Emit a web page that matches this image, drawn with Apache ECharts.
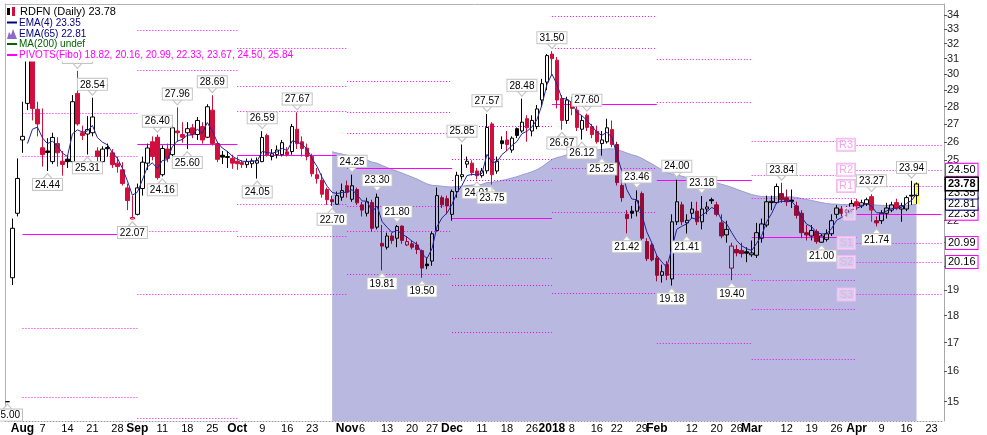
<!DOCTYPE html>
<html><head><meta charset="utf-8">
<script src="https://cdn.jsdelivr.net/npm/echarts@6/dist/echarts.min.js"></script>
<style>html,body{margin:0;padding:0;background:#fff}#c{width:987px;height:435px}</style>
</head><body><div id="c"></div>
<script>
// ---------- data ----------
const firstDay = '2017-07-27', lastDay = '2018-04-25';
const holidays = ['2017-09-04','2017-11-23','2017-12-25','2018-01-01','2018-01-15','2018-02-19','2018-03-30'];
const opens  = [15,19.5,22.35,26.1,28.2,31.0,27.85,25.67,25.5,24.93,25.9,24.95,25.06,24.93,28.8,26.5,26.43,26.5,25.5,24.93,25.68,25.4,24.85,24.5,23.58,22.08,22.3,23.55,24.85,26.0,26.25,24.25,25.6,25.3,26.6,26.4,26.5,26.78,26.4,26.85,26.25,27.8,25.9,25.27,25.15,25.1,24.95,24.88,24.77,24.82,24.85,24.93,26.35,25.2,25.3,25.3,25.45,25.47,26.7,26.0,25.65,25.2,24.25,23.97,23.5,23.0,22.78,23.12,23.69,23.02,23.5,22.75,22.35,22.86,21.7,20.97,20.8,21.3,21.2,21.75,20.9,20.95,20.9,20.65,20.07,20.2,21.55,23.1,23.05,22.3,23.4,24.15,24.8,24.85,24.44,24.2,24.45,27.0,24.44,26.05,26.1,25.55,26.73,26.6,27.3,26.6,26.85,28.4,29.5,31.3,30.9,28.5,27.2,28.3,27.8,26.7,27.5,26.85,26.58,25.9,26.0,26.68,25.85,23.7,22.3,22.45,22.45,23.3,21.05,20.9,20.33,19.6,20.05,19.45,21.95,22.75,21.9,22.35,22.45,21.95,22.55,23.0,22.75,21.9,21.35,19.9,20.7,20.66,20.6,20.47,20.45,21.2,21.8,22.86,22.86,23.3,23.1,22.98,22.7,22.35,21.45,21.3,21.5,21.02,21.15,21.4,22.3,22.55,22.4,22.55,22.9,22.7,22.8,23.15,22.0,22.0,22.35,22.5,22.86,22.55,22.55,23.22,23.2];
const closes = [15,21.65,24.06,26.3,31.6,27.9,27.0,25.3,25.42,26.24,25.4,24.78,24.93,28.3,27.0,26.35,26.68,27.4,25.2,25.6,25.62,24.77,24.67,23.8,22.96,22.15,23.58,24.9,25.66,25.2,24.1,25.63,25.1,26.78,26.5,26.25,26.73,26.4,27.2,26.1,28.0,25.9,25.05,25.17,25.2,24.85,24.82,24.78,24.93,24.97,24.99,26.24,25.3,25.35,25.55,25.95,25.3,26.85,25.9,25.63,25.2,24.3,24.05,23.27,23.0,22.9,23.2,23.45,23.37,23.69,22.85,22.5,22.9,21.65,23.12,20.85,21.3,21.1,21.73,21.1,21.05,20.8,20.7,19.9,20.0,21.4,23.2,22.75,22.7,23.4,24.22,24.25,24.95,24.35,24.2,24.45,26.8,24.25,24.95,25.9,25.85,26.2,26.35,27.1,26.78,27.2,27.87,29.4,31.2,31.0,28.4,27.2,28.4,27.9,26.8,27.2,26.8,26.4,26.0,26.1,26.78,25.85,23.85,23.1,22.1,22.35,22.95,21.2,20.3,20.25,19.6,19.75,19.6,21.95,22.9,21.95,22.02,22.55,21.95,22.55,22.65,22.95,22.3,21.3,21.6,20.85,20.55,20.52,20.54,20.55,21.45,21.85,22.9,22.92,23.65,23.0,22.9,22.92,22.25,21.45,21.35,21.55,21.05,21.3,21.4,22.0,22.6,22.35,22.5,22.82,22.7,22.85,23.0,22.5,21.9,22.35,22.6,22.75,22.6,22.7,23.1,23.18,23.78];
const lows   = [15,19.2,22.2,25.4,27.8,27.2,26.3,24.67,24.44,24.8,24.67,24.2,24.6,24.6,26.9,26.1,25.31,26.3,24.95,24.85,25.2,24.6,24.35,23.7,22.5,22.07,22.25,23.2,24.5,25.0,24.0,24.16,24.9,25.2,26.0,25.95,25.6,26.2,26.1,25.9,26.2,25.8,24.9,24.8,24.6,24.55,24.5,24.6,24.6,24.6,24.05,24.9,25.2,25.0,25.1,25.2,25.2,25.3,25.6,25.2,25.0,24.15,23.8,23.1,22.75,22.7,22.75,22.95,23.1,22.9,22.75,22.2,22.2,21.5,21.6,19.81,20.7,20.95,20.8,20.95,20.85,20.7,20.5,19.5,19.85,20.0,21.5,22.6,22.3,22.0,23.1,24.0,24.6,24.2,24.01,24.1,24.3,23.75,24.3,25.6,25.5,25.4,26.2,26.5,26.0,26.3,26.7,28.0,29.0,29.9,27.9,26.67,27.0,27.5,26.6,26.12,26.6,26.2,25.9,25.25,25.9,25.7,23.7,22.9,21.42,22.1,22.2,21.1,20.2,20.18,19.35,19.3,19.4,19.18,21.8,21.8,21.41,22.1,21.8,21.6,22.3,22.8,22.2,21.2,21.0,19.4,20.4,20.35,20.15,20.38,20.33,21.0,21.7,22.5,22.8,22.85,22.7,22.6,22.1,21.2,21.1,21.1,20.95,21.0,21.05,21.3,22.1,22.2,22.2,22.4,22.5,22.6,22.7,21.95,21.74,21.85,22.1,22.4,22.5,21.95,22.45,22.75,22.8];
const highs  = [15,22.1,25.1,28.3,33.47,31.8,28.3,27.9,26.2,26.5,26.25,25.5,25.27,28.7,30.21,26.9,27.45,28.54,25.7,25.75,25.9,25.6,25.2,24.9,23.8,23.2,23.8,25.2,25.9,26.3,26.4,25.8,25.9,26.9,27.96,27.1,27.1,27.0,27.4,27.1,28.15,28.69,26.0,25.5,25.5,25.3,25.2,25.0,25.1,25.1,25.15,26.59,26.45,25.6,25.8,26.1,25.7,27.0,27.67,26.3,25.9,25.35,24.6,24.3,23.6,23.2,23.4,23.8,23.95,24.25,23.6,22.9,23.1,23.0,23.3,21.8,21.45,21.45,21.8,21.78,21.3,21.1,21.05,20.7,20.35,21.5,23.6,23.2,23.2,23.5,24.4,25.85,25.2,25.0,24.6,24.6,27.57,27.1,25.2,26.3,26.6,26.3,26.8,28.48,27.5,27.5,28.1,29.7,31.3,31.5,31.1,28.7,28.6,28.6,28.1,27.5,27.6,27.0,26.9,26.6,27.3,27.2,26.0,24.0,22.5,22.7,23.46,23.4,21.2,21.0,20.5,20.05,20.2,22.3,24.0,22.9,22.3,22.9,22.9,23.18,22.9,23.1,22.9,22.3,22.0,21.0,20.9,21.0,20.8,21.1,21.9,22.1,23.2,23.2,23.8,23.84,23.5,23.5,22.9,22.5,21.8,21.8,21.6,21.4,21.6,22.3,22.75,22.7,22.7,23.0,23.05,23.0,23.1,23.27,22.2,22.5,22.85,22.9,23.05,22.85,23.2,23.94,23.85];
// swing labels (candle indices)
const highLabelIdx = [14,17,30,34,41,51,58,69,74,78,91,96,103,109,116,126,134,139,155,173,181];
const lowLabelIdx  = [0,8,16,25,31,36,50,65,75,83,94,97,111,115,119,124,133,136,145,163,174];
// values printed in the legend / right-hand boxes
const lastClose = 23.78, lastEma4 = 23.35, lastEma65 = 22.81;
const legendPivots = '18.82, 20.16, 20.99, 22.33, 23.67, 24.50, 25.84';
const yTicks = [15,16,17,18,19,20,21,22,23,24,25,26,27,28,29,30,31,32,33,34];
const xTickLabels = [['2017-08-01','Aug'],['2017-08-07','7'],['2017-08-14','14'],['2017-08-21','21'],['2017-08-28','28'],
['2017-09-01','Sep'],['2017-09-11','11'],['2017-09-18','18'],['2017-09-25','25'],
['2017-10-02','Oct'],['2017-10-09','9'],['2017-10-16','16'],['2017-10-23','23'],
['2017-11-01','Nov'],['2017-11-06','6'],['2017-11-13','13'],['2017-11-20','20'],['2017-11-27','27'],
['2017-12-01','Dec'],['2017-12-11','11'],['2017-12-18','18'],['2017-12-26','26'],
['2018-01-02','2018'],['2018-01-08','8'],['2018-01-16','16'],['2018-01-22','22'],['2018-01-29','29'],
['2018-02-01','Feb'],['2018-02-12','12'],['2018-02-20','20'],['2018-02-26','26'],
['2018-03-01','Mar'],['2018-03-12','12'],['2018-03-19','19'],['2018-03-26','26'],
['2018-04-02','Apr'],['2018-04-09','9'],['2018-04-16','16'],['2018-04-23','23']];
const fibNames  = ['R3','R2','R1','P','S1','S2','S3'];
const fibRatios = [1, 0.618, 0.382, 0, -0.382, -0.618, -1];

// ---------- derived ----------
const dates = [];
(function(){
  let d = new Date(firstDay+'T00:00:00Z'); const end = new Date(lastDay+'T00:00:00Z');
  while (d <= end) {
    const s = d.toISOString().slice(0,10), wd = d.getUTCDay();
    if (wd !== 0 && wd !== 6 && holidays.indexOf(s) < 0) dates.push(s);
    d = new Date(d.getTime() + 86400000);
  }
})();
const N = dates.length;
const M = closes.length;
const YMIN = 14.4, YMAX = 34.8;
const MAG = '#ff00ff';

function ema(period, from) {
  const out = new Array(M).fill(null);
  let s = 0; for (let k = from; k < from + period; k++) s += closes[k];
  let e = s / period; out[from + period - 1] = e;
  const a = 2 / (period + 1);
  for (let k = from + period; k < M; k++) { e = a * closes[k] + (1 - a) * e; out[k] = e; }
  return out;
}
const ema4 = ema(4, 1), ema65 = ema(65, 1);

const RED = '#d20f3c', MAROON = '#960a36';
function candleStyle(k) {
  const prev = k > 0 ? closes[k-1] : closes[k];
  const up = closes[k] >= prev;
  let col = up ? '#000000' : RED;
  if (!up && ema65[k] != null && (opens[k] + closes[k]) / 2 < ema65[k]) col = MAROON;
  const hollow = closes[k] > opens[k];
  const fill = hollow ? 'rgba(0,0,0,0)' : col;
  return {color: fill, color0: fill, borderColor: col, borderColor0: col, borderWidth: 1};
}
const candleData = opens.map((o,k) => ({value:[o, closes[k], lows[k], highs[k]], itemStyle: candleStyle(k)}));

// monthly Fibonacci pivots from previous month H/L/C -> segments [startIdx, endIdx, level, isP]
const months = [];
dates.forEach((d,k) => { const m = d.slice(0,7);
  if (!months.length || months[months.length-1].key !== m) months.push({key:m, start:k, end:k});
  else months[months.length-1].end = k; });
const pivotSegs = []; let lastLevels = null, lastStart = 0;
for (let i = 1; i < months.length; i++) {
  const pm = months[i-1]; if (pm.start >= M) break;
  let H = -Infinity, L = Infinity;
  for (let k = pm.start; k <= Math.min(pm.end, M-1); k++) { H = Math.max(H, highs[k]); L = Math.min(L, lows[k]); }
  const C = closes[Math.min(pm.end, M-1)];
  const P = (H + L + C) / 3, r = H - L;
  const s = months[i].start, e = (i + 1 < months.length) ? months[i+1].start : N - 1;
  const lv = fibRatios.map(f => P + f * r);
  lv.forEach((v, j) => { if (v >= YMIN && v <= YMAX) pivotSegs.push([s, e, v, fibRatios[j] === 0 ? 1 : 0]); });
  lastLevels = lv; lastStart = s;
}

const xLabelMap = {};
xTickLabels.forEach(([d,t]) => { const k = dates.indexOf(d); if (k >= 0) xLabelMap[k] = t; });

const boxLabel = (c, bold, txt) => ({show:true, position:'end', distance:2, color:'#000', fontSize:11, fontFamily:'Liberation Sans, Arial',
  fontWeight: bold ? 'bold' : 'normal', backgroundColor:'#fff', borderColor:c, borderWidth: bold ? 1.5 : 1, padding:[1,2,0,2], formatter: txt});
const rightBoxes = [
  {yAxis: lastLevels[5], label: boxLabel(MAG, false, lastLevels[5].toFixed(2))},
  {yAxis: lastLevels[4], label: boxLabel(MAG, false, lastLevels[4].toFixed(2))},
  {yAxis: lastLevels[3], label: boxLabel(MAG, false, lastLevels[3].toFixed(2))},
  {yAxis: lastEma65, label: boxLabel('#000080', false, lastEma65.toFixed(2))},
  {yAxis: lastEma4, label: boxLabel('#000080', false, lastEma4.toFixed(2))},
  {yAxis: lastLevels[1], label: boxLabel(MAG, false, lastLevels[1].toFixed(2))},
  {yAxis: lastClose, label: boxLabel('#000000', true, lastClose.toFixed(2))}
];

const swingLabel = {show:true, color:'#000', fontSize:10, fontFamily:'Liberation Sans, Arial', backgroundColor:'#fff',
  borderColor:'#c4c4c4', borderWidth:1, padding:[1,2,0,2], distance:0, formatter: p => p.value};
const swingPoints = [];
highLabelIdx.forEach(k => swingPoints.push({coord:[k, highs[k]], value: highs[k].toFixed(2), symbolRotate:180, symbolOffset:[0,-5], label:{position:'top'}}));
lowLabelIdx.forEach(k => swingPoints.push({coord:[k, lows[k]], value: lows[k].toFixed(2), symbolRotate:0, symbolOffset:[0,5], label:{position:'bottom'}}));

const pivotTags = fibNames.map((n, j) => ({coord:[lastStart, lastLevels[j]], value:n}));

const font10 = '10px "Liberation Sans", Arial';
const chart = echarts.init(document.getElementById('c'));
chart.setOption({
  animation:false,
  backgroundColor:'#fff',
  grid:{left:5, right:43, top:4, bottom:14, containLabel:false},
  xAxis:[{type:'category', data:dates, boundaryGap:true,
      axisLine:{show:true, lineStyle:{color:'#999', type:[1,2]}}, axisTick:{show:false},
      axisLabel:{interval:(i)=> xLabelMap[i] !== undefined, margin:2, fontSize:11, color:'#000', fontFamily:'Liberation Sans, Arial',
        formatter:(v,i)=>{ const t = xLabelMap[i]; if (t === undefined) return ''; return /^[A-Z]|2018/.test(t) ? '{b|'+t+'}' : t; },
        rich:{b:{fontWeight:'bold', fontSize:12, color:'#000', fontFamily:'Liberation Sans, Arial'}}},
      splitLine:{show:false}},
    {type:'category', data:dates, position:'top', axisLine:{show:true, lineStyle:{color:'#b4b4b4'}}, axisTick:{show:false}, axisLabel:{show:false}, splitLine:{show:false}}],
  yAxis:[{type:'log', logBase:10, min:YMIN, max:YMAX, position:'right',
      axisLine:{show:true, lineStyle:{color:'#a8a8a8'}},
      axisTick:{show:true, length:3, inside:false, customValues:yTicks, lineStyle:{color:'#555'}},
      axisLabel:{show:true, customValues:yTicks, margin:3, fontSize:11, color:'#222', fontFamily:'Liberation Sans, Arial', formatter:v=>String(Math.round(v))},
      splitLine:{show:false}},
    {type:'log', logBase:10, min:YMIN, max:YMAX, position:'left', axisLine:{show:true, lineStyle:{color:'#b4b4b4'}}, axisTick:{show:false}, axisLabel:{show:false}, splitLine:{show:false}}],
  series:[
    {name:'EMA65', type:'line', data:ema65, symbol:'none', z:1, lineStyle:{color:'#9c9cd0', width:1}, areaStyle:{color:'#b8b8e0', opacity:1, origin:'start'}},
    {name:'hl', type:'custom', z:2, data:[[M-1, lows[M-1], highs[M-1]]],
      renderItem:(params, api) => { const k = api.value(0); const t = api.coord([k, api.value(2)]); const b = api.coord([k, api.value(1)]);
        const w = api.size([1,0])[0] * 1.4; return {type:'rect', shape:{x:t[0]-w/2, y:t[1], width:w, height:b[1]-t[1]}, style:{fill:'#ffff55'}}; }},
    {name:'pivots', type:'custom', z:2, silent:true, data:pivotSegs, encode:{x:[0,1], y:2},
      renderItem:(params, api) => {
        const a = api.coord([api.value(0), api.value(2)]), b = api.coord([api.value(1), api.value(2)]);
        const solid = api.value(3) === 1;
        const y = Math.round(a[1]) + 0.5;
        return {type:'line', shape:{x1:a[0], y1:y, x2:b[0], y2:y},
          style:{stroke:MAG, lineWidth:1, lineDash: solid ? null : [1,2], fill:null}};
      }},
    {name:'RDFN', type:'candlestick', data:candleData, barWidth:4, z:3,
      markPoint:{symbol:'triangle', symbolSize:[9,5], silent:true, animation:false, itemStyle:{color:'#fff', borderColor:'#c4c4c4', borderWidth:1}, label:swingLabel, data:swingPoints}},
    {name:'EMA4', type:'line', data:ema4, symbol:'none', z:4, lineStyle:{color:'#23239c', width:1}},
    {name:'tags', type:'line', data:[], z:5,
      markPoint:{symbol:'rect', symbolSize:1, silent:true, itemStyle:{color:'rgba(0,0,0,0)'},
        label:{show:true, position:'left', distance:1, formatter:p=>p.value, color:'#f0a6ee', fontSize:11, fontFamily:'Liberation Sans, Arial',
          backgroundColor:'rgba(255,255,255,0.35)', borderColor:'#f3b8f0', borderWidth:1, padding:[1,2,0,2]}, data:pivotTags}},
    {name:'boxes', type:'line', data:[], z:6,
      markLine:{silent:true, symbol:['none','none'], animation:false, lineStyle:{color:'rgba(0,0,0,0)', width:1, type:'solid'}, data:rightBoxes}}
  ],
  graphic:[
    {type:'rect', left:7, top:8, z:100, shape:{width:3, height:7}, style:{fill:'#000'}},
    {type:'rect', left:12, top:7, z:100, shape:{width:3, height:9}, style:{fill:RED}},
    {type:'text', left:19, top:5, z:100, style:{text:'RDFN (Daily) 23.78', fill:'#000', font:'11px "Liberation Sans", Arial', backgroundColor:'#fff', padding:[1,1]}},
    {type:'rect', left:7, top:21.5, z:100, shape:{width:10, height:2}, style:{fill:'#000080'}},
    {type:'text', left:18, top:17, z:100, style:{text:'EMA(4) '+lastEma4.toFixed(2), fill:'#000080', font:font10, backgroundColor:'#fff', padding:[1,1]}},
    {type:'polygon', z:100, shape:{points:[[7,39],[9,32],[11,35],[13,29],[17,39]]}, style:{fill:'#8a6cc8'}},
    {type:'text', left:18, top:28, z:100, style:{text:'EMA(65) '+lastEma65.toFixed(2), fill:'#000080', font:font10, backgroundColor:'#fff', padding:[1,1]}},
    {type:'rect', left:7, top:43, z:100, shape:{width:10, height:2}, style:{fill:'#006400'}},
    {type:'text', left:18, top:38.5, z:100, style:{text:'MA(200) undef', fill:'#006400', font:font10, backgroundColor:'#fff', padding:[1,1]}},
    {type:'rect', left:7, top:54, z:100, shape:{width:10, height:2}, style:{fill:'#ff00ff'}},
    {type:'text', left:18, top:49.5, z:100, style:{text:'PIVOTS(Fibo) '+legendPivots, fill:'#ff00ff', font:font10, backgroundColor:'#fff', padding:[1,1]}}
  ]
});
</script></body></html>
